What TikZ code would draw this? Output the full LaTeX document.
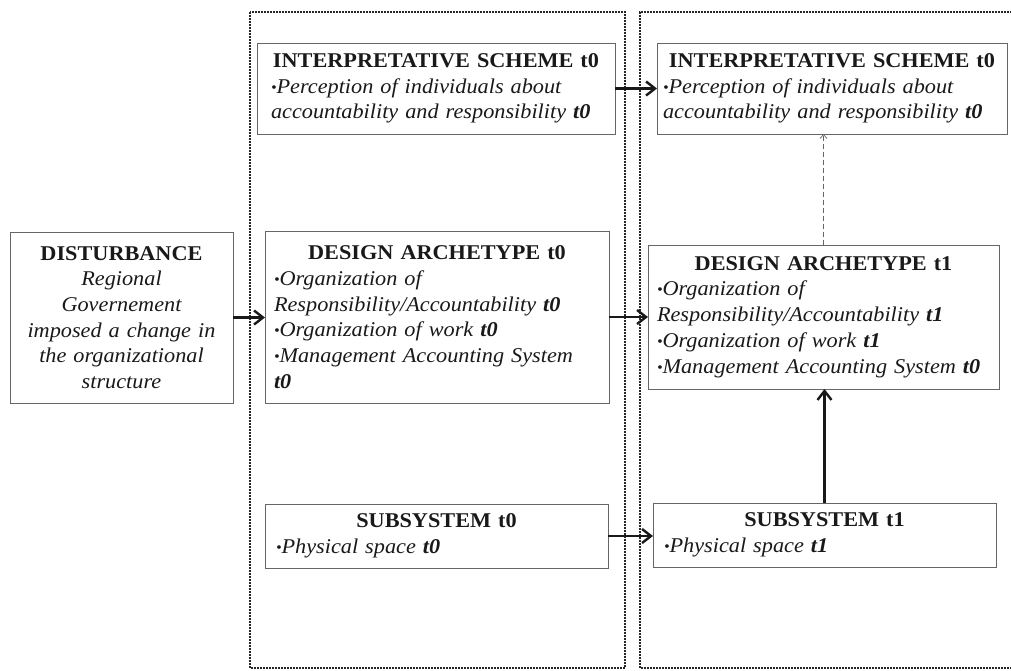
\documentclass[tikz,border=0pt]{standalone}
\usepackage{fontspec}
\setmainfont{Liberation Serif}[FakeStretch=1.06, WordSpace=0.4]
\usetikzlibrary{arrows.meta}
\newcommand\bul{\raisebox{1pt}{\fontsize{15}{15}\selectfont •}}
\newcommand\ttl[1]{{\centering\textbf{#1}\par}}
\tikzset{
  box/.style={draw=black!60, line width=0.8pt, anchor=north west, inner ysep=0pt,
    outer sep=0pt, align=left, text=black!90,
    font=\fontsize{21}{25.7}\selectfont},
  frame/.style={draw=black!85, line width=1.6pt, dash pattern=on 1.6pt off 1.4pt},
  flow/.style={line width=2.8pt, draw=black!90,
    -{Straight Barb[length=9pt,width=14pt,line width=2.4pt]}},
  hint/.style={draw=black!60, line width=0.7pt, dash pattern=on 5pt off 3pt,
    -{Straight Barb[length=4pt,width=7pt,line width=0.7pt]}},
}
\begin{document}
\begin{tikzpicture}[x=1pt,y=-1pt]
\useasboundingbox (0,0) rectangle (1011,670);
\clip (0,0) rectangle (1011,670);
% dotted frames
\draw[frame] (250,12) rectangle (625,668);
\draw[frame] (1030,12) -| (640,668) -- (1030,668);
% boxes
\node[box, inner xsep=14pt, text width=330pt, minimum height=91pt] (i0) at (257,43)
 {\ttl{INTERPRETATIVE SCHEME t0}
  \itshape\bul Perception of individuals about\\ accountability and responsibility \textbf{t0}};
\node[box, inner xsep=6pt, text width=338pt, minimum height=91pt] (i1) at (657,43)
 {\ttl{INTERPRETATIVE SCHEME t0}
  \itshape\bul Perception of individuals about\\ accountability and responsibility \textbf{t0}};
\node[box, align=center, inner xsep=4pt, text width=215pt, minimum height=171pt] (dist) at (10,232)
 {\textbf{DISTURBANCE}\\ \itshape Regional\\ \itshape Governement\\ \itshape imposed a change in\\ \itshape the organizational\\ \itshape structure};
\node[box, inner xsep=9pt, text width=326pt, minimum height=172pt] (d0) at (265,231)
 {\ttl{DESIGN ARCHETYPE t0}
  \itshape\bul Organization of\\ Responsibility/Accountability \textbf{t0}\\
  \bul Organization of work \textbf{t0}\\ \bul Management Accounting System\\ \textbf{t0}};
\node[box, inner xsep=9pt, text width=333pt, minimum height=144pt] (d1) at (648,245)
 {\ttl{DESIGN ARCHETYPE t1}
  \itshape\bul Organization of\\ Responsibility/Accountability \textbf{t1}\\
  \bul Organization of work \textbf{t1}\\ \bul Management Accounting System \textbf{t0}};
\node[box, inner xsep=11pt, text width=321pt, minimum height=64pt] (s0) at (265,504)
 {\ttl{SUBSYSTEM t0}
  \itshape\bul Physical space \textbf{t0}};
\node[box, inner xsep=11pt, text width=321pt, minimum height=64pt] (s1) at (653,503)
 {\ttl{SUBSYSTEM t1}
  \itshape\bul Physical space \textbf{t1}};
% connectors
\draw[flow] (i0.east) -- (i0.east -| i1.west);
\draw[flow] (dist.east) -- (dist.east -| d0.west);
\draw[flow] (d0.east) -- (d0.east -| d1.west);
\draw[flow] (s0.east) -- (s0.east -| s1.west);
\draw[flow] (s1.north) -- (s1.north |- d1.south);
\draw[hint] (d1.north) -- (d1.north |- i1.south);
\end{tikzpicture}
\end{document}
